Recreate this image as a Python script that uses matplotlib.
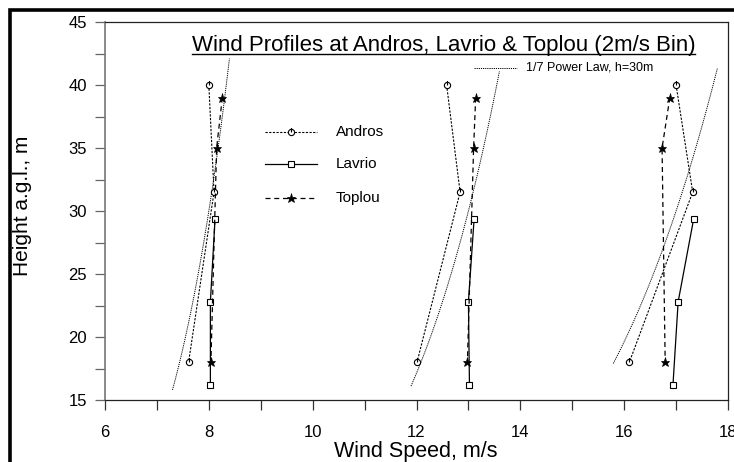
import matplotlib
matplotlib.use("Agg")
import matplotlib.pyplot as plt
import numpy as np
from matplotlib.path import Path
from matplotlib.lines import Line2D
from matplotlib.patches import Rectangle

plt.rcParams['font.family'] = ['Liberation Sans', 'DejaVu Sans']

# Measured profiles, one block per 2 m/s wind-speed bin
andros_height = [40.0, 31.5, 18.0]
andros_speed = [[8.00, 8.10, 7.61],
                [12.58, 12.84, 12.01],
                [17.00, 17.32, 16.10]]

lavrio_height = [29.4, 22.8, 16.2]
lavrio_speed = [[8.12, 8.03, 8.03],
                [13.11, 13.00, 13.02],
                [17.34, 17.04, 16.94]]

toplou_height = [39.0, 35.0, 18.0]
toplou_speed = [[8.26, 8.15, 8.04],
                [13.14, 13.10, 12.98],
                [16.88, 16.73, 16.79]]

# 1/7 power law reference curves (reference height 30 m)
law_ref_speed = [8.0, 13.0, 17.0]
law_h_low = [15.8, 16.1, 17.9]
law_h_high = [42.1, 41.1, 41.3]
law_ref_height = 30.0
law_exponent = 1.0 / 7.0

x_ticks = [6, 8, 10, 12, 14, 16, 18]
y_ticks = [15, 20, 25, 30, 35, 40, 45]

W, H = 734, 462
fig = plt.figure(figsize=(W / 100, H / 100), dpi=100)
ax = fig.add_axes([105 / W, 1 - 400 / H, 623 / W, 378 / H])

# circle with a short vertical stroke
circ = Path.unit_circle()
stroke = Path([(0, 0), (0, 1.45)], [Path.MOVETO, Path.LINETO])
andros_marker = Path.make_compound_path(circ, stroke)

law_style = dict(color='black', lw=0.7, linestyle=(0, (1.2, 1.0)))
andros_style = dict(color='black', lw=0.8, linestyle=(0, (2.0, 1.3)),
                    marker=andros_marker, ms=6.5, mfc='white', mec='black', mew=0.8)
lavrio_style = dict(color='black', lw=0.9, linestyle='-',
                    marker='s', ms=4.5, mfc='white', mec='black', mew=0.8)
toplou_style = dict(color='black', lw=0.9, linestyle=(0, (4.0, 3.0)),
                    marker='*', ms=6.5, mfc='black', mec='black', mew=0.5)

for i in range(3):
    h = np.linspace(law_h_low[i], law_h_high[i], 60)
    u = law_ref_speed[i] * (h / law_ref_height) ** law_exponent
    ax.plot(u, h, **law_style)

for i in range(3):
    ax.plot(andros_speed[i], andros_height, **andros_style)
    ax.plot(lavrio_speed[i], lavrio_height, **lavrio_style)
    ax.plot(toplou_speed[i], toplou_height, **toplou_style)

ax.set_xlim(6, 18)
ax.set_ylim(15, 45)
ax.set_xticks(x_ticks)
ax.set_yticks(y_ticks)
ax.set_xticks(np.arange(7, 18, 2), minor=True)
ax.set_yticks(np.arange(17.5, 45, 5), minor=True)
ax.tick_params(axis='both', which='both', direction='out', length=7, width=0.9,
               labelsize=12)
ax.tick_params(axis='y', which='both', colors='#666666', labelcolor='black', pad=6)
ax.tick_params(axis='x', which='both', colors='#333333', labelcolor='black', pad=11)
for s in ['top', 'right', 'bottom']:
    ax.spines[s].set_color('#222222')
    ax.spines[s].set_linewidth(0.9)
ax.spines['left'].set_color('#777777')
ax.spines['left'].set_linewidth(1.2)

fig.text(416 / W, 1 - 451 / H, 'Wind Speed, m/s', fontsize=15.5, ha='center', va='center')
fig.text(23 / W, 1 - 206 / H, 'Height a.g.l., m', fontsize=15, ha='center', va='center',
         rotation=90)

# underlined title inside the plotting area
title = fig.text(443.5 / W, 1 - 45 / H, 'Wind Profiles at Andros, Lavrio & Toplou (2m/s Bin)',
                 fontsize=16, ha='center', va='center')
fig.canvas.draw()
bb = title.get_window_extent(renderer=fig.canvas.get_renderer())
uy = (bb.y0 + 1.5) / H
fig.add_artist(Line2D([bb.x0 / W, bb.x1 / W], [uy, uy], color='black', lw=1.0,
                      transform=fig.transFigure))

# legend for the three sites
leg_rows = [('Andros', andros_style, 132), ('Lavrio', lavrio_style, 164),
            ('Toplou', toplou_style, 198)]
for name, st, ypx in leg_rows:
    yy = 1 - ypx / H
    fig.add_artist(Line2D([265 / W, 317 / W], [yy, yy], transform=fig.transFigure,
                          **{k: v for k, v in st.items() if k not in ('marker', 'ms', 'mfc', 'mec', 'mew')}))
    fig.add_artist(Line2D([291 / W], [yy], transform=fig.transFigure, linestyle='none',
                          marker=st['marker'], ms=st['ms'], mfc=st['mfc'],
                          mec=st['mec'], mew=st['mew']))
    fig.text(336 / W, yy, name, fontsize=11, va='center', ha='left')

# legend for the power law curves
yy = 1 - 68 / H
fig.add_artist(Line2D([474 / W, 517 / W], [yy, yy], transform=fig.transFigure, **law_style))
fig.text(526 / W, yy + 1 / H, '1/7 Power Law, h=30m', fontsize=9, va='center', ha='left')

# outer frame
fig.add_artist(Rectangle((9.5 / W, -0.1), 1.2, 1.1 - 10.5 / H, transform=fig.transFigure,
                         fill=False, edgecolor='black', lw=2.6))

fig.savefig('out.png', dpi=100)
